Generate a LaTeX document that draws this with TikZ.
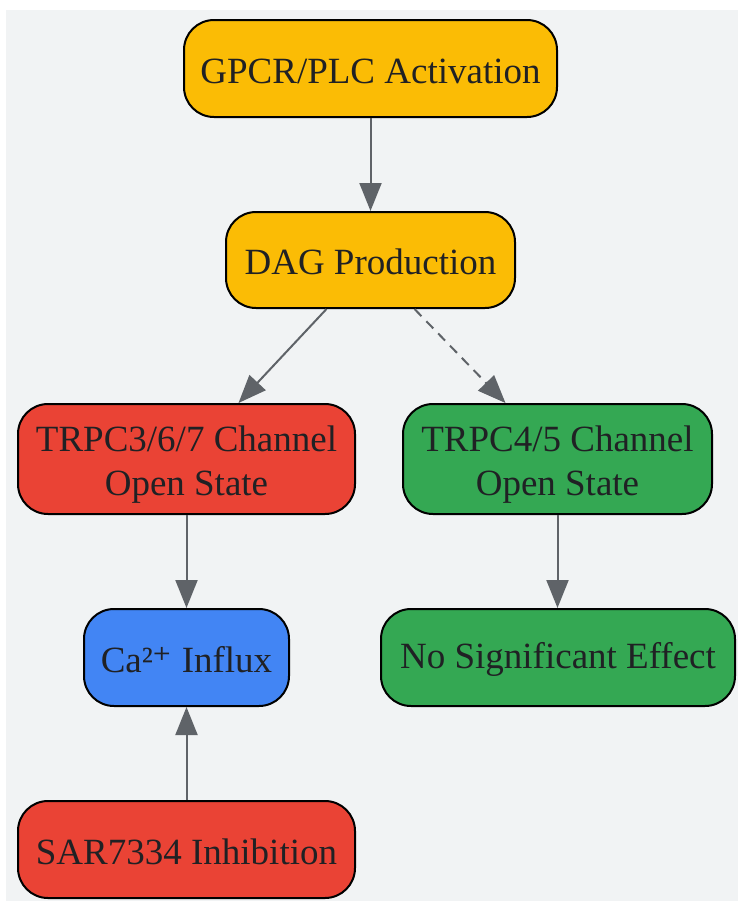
\documentclass[tikz,border=0pt]{standalone}
\usepackage{fontspec}
\setmainfont{Liberation Serif}
\newfontfamily\djv{DejaVu Serif}
\usetikzlibrary{arrows.meta}
\definecolor{bgc}{HTML}{F1F3F4}
\definecolor{yel}{HTML}{FBBC05}
\definecolor{redc}{HTML}{EA4335}
\definecolor{grn}{HTML}{34A853}
\definecolor{blu}{HTML}{4285F4}
\definecolor{txt}{HTML}{202124}
\definecolor{arr}{HTML}{5F6368}
\newcommand{\tup}[1]{\rule{0pt}{#1}}
\begin{document}
\begin{tikzpicture}[x=1pt,y=-1pt,
  box/.style={draw=black, line width=2pt, rounded corners=30pt, align=center,
    font=\fontsize{37}{44}\selectfont, text=txt, inner sep=0pt},
  link/.style={draw=arr, line width=2pt, -{Triangle[length=28pt,width=22pt]}},
  dlink/.style={link, dash pattern=on 10pt off 7pt}]
\useasboundingbox (0,0) rectangle (738,903);
\fill[bgc] (6,10) rectangle (738,901);
\node[box, fill=yel, minimum width=373pt, minimum height=97pt] (gpcr) at (370.5,68.5) {\tup{30pt}GPCR/PLC Activation};
\node[box, fill=yel, minimum width=289pt, minimum height=96pt] (dag) at (370.5,260) {\tup{30pt}DAG Production};
\node[box, fill=redc, minimum width=337pt, minimum height=110pt] (trpc3) at (186.5,459) {\tup{36pt}TRPC3/6/7 Channel\\Open State};
\node[box, fill=grn, minimum width=309pt, minimum height=110pt] (trpc4) at (557.5,459) {\tup{36pt}TRPC4/5 Channel\\Open State};
\node[box, fill=blu, minimum width=205pt, minimum height=97pt] (ca) at (186.5,657.5) {\tup{30pt}Ca²{\djv ⁺} Influx};
\node[box, fill=grn, minimum width=354pt, minimum height=97pt] (nosig) at (558,657.5) {\tup{30pt}No Significant Effect};
\node[box, fill=redc, minimum width=337pt, minimum height=97pt] (sar) at (186.5,849.5) {\tup{30pt}SAR7334 Inhibition};
\draw[link] (gpcr.south) -- (dag.north);
\draw[link] ([xshift=-44pt]dag.south) -- ([xshift=52pt]trpc3.north);
\draw[dlink] ([xshift=44pt]dag.south) -- ([xshift=-52pt]trpc4.north);
\draw[link] (trpc3.south) -- (ca.north);
\draw[link] (trpc4.south) -- (trpc4.south |- nosig.north);
\draw[link] (sar.north) -- (ca.south);
\end{tikzpicture}
\end{document}
